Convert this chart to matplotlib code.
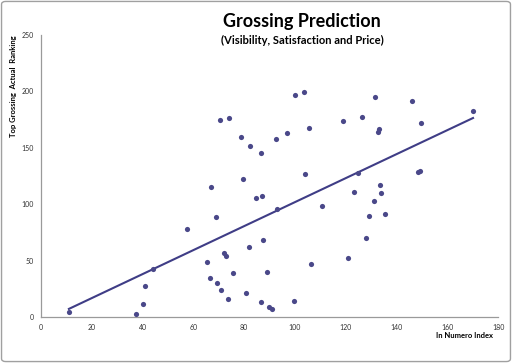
import matplotlib
matplotlib.use("Agg")
import matplotlib.pyplot as plt
import numpy as np
from matplotlib.patches import FancyBboxPatch

plt.rcParams['font.family'] = ['Lato', 'DejaVu Sans']

# data
x = [11.0, 37.4, 40.0, 40.8, 44.1, 57.6, 65.5, 66.7, 67.1, 69.0,
     69.2, 70.4, 70.8, 71.9, 73.0, 73.7, 74.0, 75.6, 78.6, 79.6,
     80.9, 81.9, 82.4, 84.7, 86.5, 86.6, 87.0, 87.3, 89.1, 89.8,
     91.0, 99.6, 99.9, 103.5, 92.6, 97.0, 105.6, 104.0, 93.1, 110.5,
     106.5, 119.1, 126.3, 131.4, 132.5, 133.1, 145.9, 149.8, 148.4, 149.4,
     170.1, 125.0, 123.4, 133.4, 134.0, 131.2, 129.2, 135.6, 128.1, 121.0]
y = [4.2, 2.4, 11.8, 27.7, 42.8, 78.0, 48.8, 34.3, 115.5, 88.9,
     30.1, 174.4, 24.2, 57.0, 53.8, 16.0, 176.4, 39.3, 159.6, 122.6,
     21.0, 62.1, 151.6, 105.8, 145.7, 13.3, 107.5, 68.0, 40.2, 9.2,
     7.2, 14.2, 197.1, 199.2, 157.5, 163.4, 167.5, 126.5, 95.7, 98.1,
     47.0, 173.5, 177.6, 195.3, 164.3, 166.7, 191.2, 171.7, 128.3, 129.7,
     182.6, 127.7, 110.5, 116.8, 109.7, 103.1, 89.8, 91.6, 69.8, 52.0]

x = np.array(x)
y = np.array(y)

fig = plt.figure(figsize=(5.12, 3.63), dpi=100)
ax = fig.add_axes([0.080, 0.1267, 0.893, 0.777])

col = '#4a4889'
ax.scatter(x, y, s=14, color=col, zorder=3, linewidths=0)

# linear trendline
k, b = np.polyfit(x, y, 1)
xt = np.array([x.min(), x.max()])
ax.plot(xt, k * xt + b, color='#3f3d86', lw=1.5, zorder=2)

ax.set_xlim(0, 180)
ax.set_ylim(0, 250)
ax.set_xticks(range(0, 181, 20))
ax.set_yticks(range(0, 251, 50))
ax.tick_params(labelsize=5, length=0, pad=5, colors='#333333')
for s in ['top', 'right']:
    ax.spines[s].set_visible(False)
for s in ['left', 'bottom']:
    ax.spines[s].set_color('#9a9a9a')
    ax.spines[s].set_linewidth(0.9)

fig.text(0.59, 0.942, 'Grossing Prediction', ha='center', va='center',
         fontsize=13, fontweight='bold')
fig.text(0.59, 0.888, '(Visibility, Satisfaction and Price)', ha='center',
         va='center', fontsize=8, fontweight='bold')
fig.text(0.026, 0.763, 'Top Grossing  Actual  Ranking', rotation=90,
         ha='center', va='center', fontsize=5.5, fontweight='bold')
fig.text(0.908, 0.076, 'In Numero Index', ha='center', va='center',
         fontsize=5.5, fontweight='bold')

fig.patches.append(FancyBboxPatch((0.003, 0.004), 0.994, 0.992,
                                  boxstyle='round,pad=0,rounding_size=0.008',
                                  transform=fig.transFigure, fill=False,
                                  edgecolor='#a0a0a0', lw=1.0))

fig.savefig('out.png', dpi=100)
